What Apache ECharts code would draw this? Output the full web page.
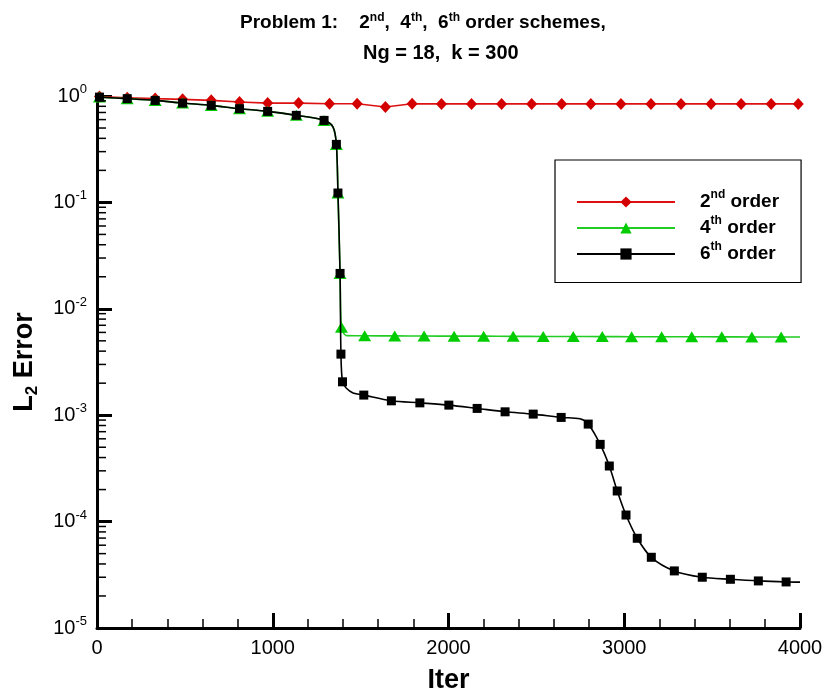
<!DOCTYPE html>
<html>
<head>
<meta charset="utf-8">
<script src="https://cdn.jsdelivr.net/npm/echarts@6/dist/echarts.min.js"></script>
<style>
  html, body { margin: 0; padding: 0; background: #fff; }
  #chart { width: 826px; height: 695px; }
</style>
</head>
<body>
<div id="chart"></div>
<script>
// ---- data -------------------------------------------------------------
const xTicks = [0, 1000, 2000, 3000, 4000];
const yDecades = [-5, -4, -3, -2, -1, 0];

// 2nd order scheme
const iter2nd = [14, 172, 331, 487, 650, 811, 971, 1147, 1323, 1480, 1641, 1793, 1960, 2131,
                 2302, 2473, 2644, 2810, 2981, 3152, 3323, 3494, 3665, 3836, 3990, 4000];
const err2nd = [0.99, 0.964, 0.945, 0.93, 0.91, 0.877, 0.858, 0.858, 0.846, 0.846, 0.787, 0.846,
                0.843, 0.843, 0.843, 0.843, 0.843, 0.843, 0.843, 0.843, 0.843, 0.843, 0.843,
                0.843, 0.843, 0.843];
const curveOnly2nd = [4000];

// 4th order scheme
const iter4th = [14, 172, 331, 487, 650, 811, 971, 1134, 1292, 1343, 1362, 1371, 1383, 1391,
                 1419, 1523, 1694, 1861, 2032, 2200, 2368, 2539, 2710, 2875, 3042, 3213, 3384,
                 3555, 3726, 3893, 4000];
const err4th = [0.976, 0.944, 0.909, 0.858, 0.816, 0.760, 0.717, 0.658, 0.590, 0.51, 0.351,
                0.1225, 0.0215, 0.0067, 0.0056, 0.00558, 0.00556, 0.00555, 0.00553, 0.00553,
                0.00551, 0.0055, 0.00549, 0.00548, 0.00547, 0.00546, 0.00546, 0.00545,
                0.00544, 0.00543, 0.00543];
const curveOnly4th = [1343, 1419, 4000];

// 6th order scheme
const iter6th = [14, 172, 331, 487, 650, 811, 971, 1134, 1292, 1343, 1362, 1371, 1383, 1388,
                 1397, 1419, 1457, 1518, 1675, 1837, 2002, 2163, 2322, 2482, 2641, 2748, 2795,
                 2863, 2915, 2960, 3010, 3074, 3154, 3285, 3444, 3604, 3763, 3921, 4000];
const err6th = [0.976, 0.944, 0.909, 0.858, 0.816, 0.760, 0.717, 0.658, 0.590, 0.51, 0.351,
                0.1225, 0.0215, 0.00375, 0.00206, 0.00179, 0.00162, 0.001545, 0.001365,
                0.001306, 0.001244, 0.001158, 0.001076, 0.001024, 0.000953, 0.000925,
                0.000825, 0.000532, 0.000333, 0.000194, 0.0001153, 0.0000697, 0.0000462,
                0.0000344, 0.0000300, 0.0000287, 0.0000277, 0.0000271, 0.0000270];
const curveOnly6th = [1343, 1419, 1457, 2748, 4000];

const seriesNames = ['2nd order', '4th order', '6th order'];

// ---- helpers ----------------------------------------------------------
const FONT = "'Liberation Sans', Arial, Helvetica, sans-serif";

function buildLine(iters, errs, curveOnly) {
  return iters.map((it, i) => {
    const item = { value: [it, errs[i]] };
    if (curveOnly.indexOf(it) >= 0) item.symbol = 'none';
    return item;
  });
}

// minor ticks of the log axis at 2..9 x 10^k
const yMinor = [];
for (let k = -5; k < 0; k++) {
  for (let m = 2; m <= 9; m++) yMinor.push([0, m * Math.pow(10, k)]);
}

function supText(name) {
  // "2nd order" -> 2 + superscript "nd" + " order"
  const m = name.match(/^(\d)(\w\w)(.*)$/);
  return '{sp|}{n|' + m[1] + '}{s|' + m[2] + '}{n|' + m[3] + '}';
}

// ---- chart ------------------------------------------------------------
const chart = echarts.init(document.getElementById('chart'), null, { renderer: 'canvas' });

const titleRich = {
  a: { fontFamily: FONT, fontSize: 19, fontWeight: 'bold', color: '#000', lineHeight: 22 },
  s: { fontFamily: FONT, fontSize: 12, fontWeight: 'bold', color: '#000', lineHeight: 14, verticalAlign: 'top' }
};
const titleRich2 = {
  a: { fontFamily: FONT, fontSize: 20, fontWeight: 'bold', color: '#000', lineHeight: 22 }
};

chart.setOption({
  animation: false,
  backgroundColor: '#fff',
  title: [
    {
      text: '{a|Problem 1:    2}{s|nd}{a|,  4}{s|th}{a|,  6}{s|th}{a| order schemes,}',
      left: 240, top: 12, padding: 0,
      textStyle: { rich: titleRich }
    },
    {
      text: '{a|Ng = 18,  k = 300}',
      left: 363, top: 42, padding: 0,
      textStyle: { rich: titleRich2 }
    }
  ],
  grid: { left: 97, right: 26, top: 96, bottom: 67, containLabel: false, outerBoundsMode: 'none' },
  legend: {
    data: seriesNames,
    orient: 'vertical',
    left: 555, top: 160,
    padding: [29, 22, 19, 21],
    itemGap: 3.5,
    itemWidth: 98,
    itemHeight: 14,
    borderColor: '#000',
    borderWidth: 1.2,
    selectedMode: false,
    formatter: supText,
    textStyle: {
      rich: {
        sp: { width: 20 },
        n: { fontFamily: FONT, fontSize: 19, fontWeight: 'bold', color: '#000', lineHeight: 26 },
        s: { fontFamily: FONT, fontSize: 12, fontWeight: 'bold', color: '#000', lineHeight: 18, verticalAlign: 'top' }
      }
    }
  },
  xAxis: {
    type: 'value',
    min: 0, max: 4000, interval: 1000,
    name: 'Iter',
    nameLocation: 'middle',
    nameGap: 39,
    nameTextStyle: { fontFamily: FONT, fontSize: 27, fontWeight: 'bold', color: '#000' },
    axisLine: { show: true, onZero: false, lineStyle: { color: '#000', width: 3 } },
    axisTick: { show: true, inside: true, length: 15, lineStyle: { color: '#000', width: 3 } },
    minorTick: { show: true, splitNumber: 5, length: 9, lineStyle: { color: '#000', width: 1.5 } },
    splitLine: { show: false },
    axisLabel: {
      fontFamily: FONT, fontSize: 20, color: '#000', margin: 10,
      formatter: function (v) { return String(v); }
    }
  },
  yAxis: {
    type: 'log',
    logBase: 10,
    min: 1e-5, max: 1,
    name: '{n|L}{b|2}{n| Error}',
    nameLocation: 'middle',
    nameGap: 56,
    nameTextStyle: {
      rich: {
        n: { fontFamily: FONT, fontSize: 27, fontWeight: 'bold', color: '#000', lineHeight: 32 },
        b: { fontFamily: FONT, fontSize: 17, fontWeight: 'bold', color: '#000', lineHeight: 32, verticalAlign: 'bottom' }
      }
    },
    axisLine: { show: true, onZero: false, lineStyle: { color: '#000', width: 3 } },
    axisTick: { show: true, inside: true, length: 15, lineStyle: { color: '#000', width: 3 } },
    minorTick: { show: false },
    splitLine: { show: false },
    axisLabel: {
      margin: 10,
      formatter: function (v) {
        const e = Math.round(Math.log10(v));
        return '{b|10}{e|' + e + '}';
      },
      rich: {
        b: { fontFamily: FONT, fontSize: 20, color: '#000', lineHeight: 26 },
        e: { fontFamily: FONT, fontSize: 13, color: '#000', lineHeight: 18, verticalAlign: 'top' }
      }
    }
  },
  series: [
    {
      name: seriesNames[0],
      type: 'line',
      data: buildLine(iter2nd, err2nd, curveOnly2nd),
      symbol: 'diamond',
      symbolSize: [11, 12],
      smooth: false,
      lineStyle: { color: '#dd1111', width: 1.6 },
      itemStyle: { color: '#d40000' },
      z: 2
    },
    {
      name: seriesNames[1],
      type: 'line',
      data: buildLine(iter4th, err4th, curveOnly4th),
      symbol: 'triangle',
      symbolSize: [13, 11],
      smooth: 0.3,
      lineStyle: { color: '#22cc22', width: 1.6 },
      itemStyle: { color: '#00cc00' },
      z: 3
    },
    {
      name: seriesNames[2],
      type: 'line',
      data: buildLine(iter6th, err6th, curveOnly6th),
      symbol: 'rect',
      symbolSize: 9,
      smooth: 0.3,
      lineStyle: { color: '#000', width: 1.6 },
      itemStyle: { color: '#000' },
      z: 4
    },
    {
      name: 'yMinorTicks',
      type: 'custom',
      coordinateSystem: 'cartesian2d',
      data: yMinor,
      silent: true,
      clip: false,
      z: 5,
      renderItem: function (params, api) {
        const p = api.coord([0, api.value(1)]);
        return {
          type: 'line',
          shape: { x1: p[0], y1: p[1], x2: p[0] + 9, y2: p[1] },
          style: { stroke: '#000', lineWidth: 1.5 }
        };
      }
    }
  ]
});
</script>
</body>
</html>
